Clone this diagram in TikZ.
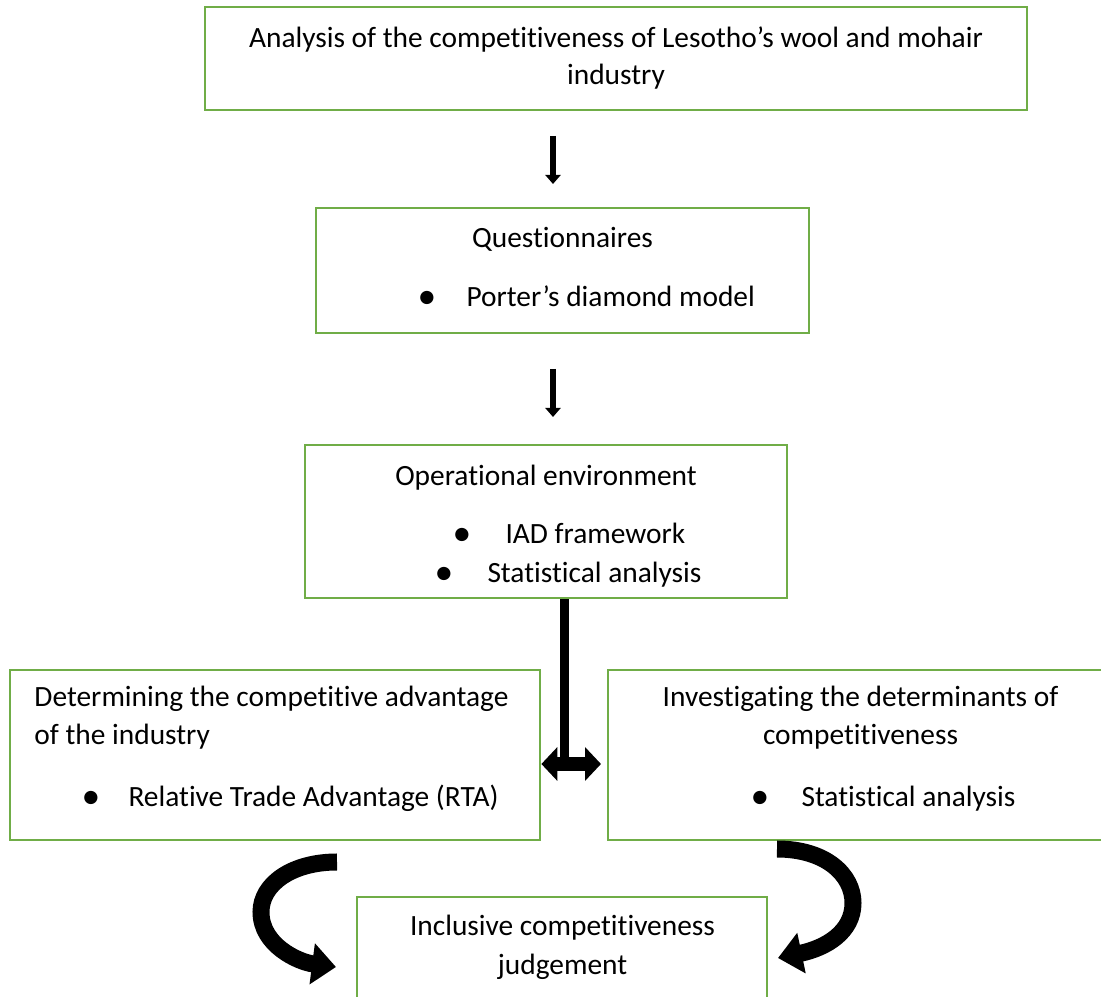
\documentclass[tikz,border=0pt]{standalone}
\usepackage{fontspec}
\setmainfont{Carlito}[Ligatures=NoCommon]
\usetikzlibrary{arrows.meta,calc,positioning}
\definecolor{boxgreen}{HTML}{70AD47}

\begin{document}
\begin{tikzpicture}[x=0.4pt,y=-0.4pt,
 box/.style 2 args={draw=boxgreen,line width=1.1pt,inner sep=0,minimum width=#1,minimum height=#2},
 txt/.style={inner sep=0,anchor=base,font=\fontsize{11.76pt}{14pt}\selectfont},
 lft/.style={txt,anchor=base west},
 dot/.style={inner sep=0,font=\fontsize{15pt}{14pt}\selectfont},
 down/.style={line width=2.4pt,-{Triangle[width=6pt,length=3.6pt]}},
 curved/.style={line width=6.8pt,-{Triangle[width=16pt,length=9.6pt]}}]
 \useasboundingbox(0,0)rectangle(1101,997);
 % boxes
 \node[box={328.8pt}{41.2pt}](top)at(616,58.5){};
 \node[box={197.2pt}{50pt}](quest)at(562.5,270.5){};
 \node[box={192.8pt}{61.2pt}](oper)at(546,521.5){};
 \node[box={212pt}{68pt}](advan)at(275,755){};
 \node[box={200.8pt}{68pt}](deter)at(859,755){};
 \node[box={164pt}{45.2pt}](judge)at(562,953.5){};
 % texts
 \node[txt](topa)at(616,48){Analysis of the competitiveness of Lesotho’s wool and mohair};
 \node[txt](topb)at(616,85){industry};
 \node[txt](questa)at(562.5,248){Questionnaires};
 \node[dot](questd)at(427,300){•};\node[lft](questb)at(466,307){Porter’s diamond model};
 \node[txt](opera)at(546,486){Operational environment};
 \node[dot](operd)at(462,537){•};\node[lft](operb)at(505,544){IAD framework};
 \node[dot](opere)at(444,576){•};\node[lft](operc)at(487,583){Statistical analysis};
 \node[lft](advana)at(34,707){Determining the competitive advantage};
 \node[lft](advanb)at(34,745){of the industry};
 \node[dot](advand)at(91,800){•};\node[lft](advanc)at(128,807){Relative Trade Advantage (RTA)};
 \node[txt](detera)at(860.5,707){Investigating the determinants of};
 \node[txt](deterb)at(860.5,745){competitiveness};
 \node[dot](deterd)at(760,800){•};\node[lft](deterc)at(801,807){Statistical analysis};
 \node[txt](judgea)at(562.5,936){Inclusive competitiveness};
 \node[txt](judgeb)at(562.5,975){judgement};
 % arrows
 \coordinate(d1)at(553,136);\coordinate(d2)at(553,184);
 \coordinate(d3)at(553,369);\coordinate(d4)at(553,417);
 \draw[down](d1)--(d2);
 \draw[down](d3)--(d4);
 \coordinate(j)at(564.5,764);\coordinate(jr)at(601,764);
 \draw[line width=3.6pt](j |- oper.south)--(j);
 \draw[line width=5.6pt,{Triangle[width=13.2pt,length=6.4pt]}-{Triangle[width=13.2pt,length=6.4pt]}](advan.east |- j)--(jr);
 \coordinate(cl0)at(337,862);\coordinate(cl1)at(336,967);
 \coordinate(cr0)at(777,849);\coordinate(cr1)at(778,958);
 \draw[curved](cl0)..controls(292,862)and(261,884)..(261,912)..controls(261,945)and(298,962)..(cl1);
 \draw[curved](cr0)..controls(826,849)and(853,875)..(853,903)..controls(853,932)and(826,948)..(cr1);
\end{tikzpicture}
\end{document}
